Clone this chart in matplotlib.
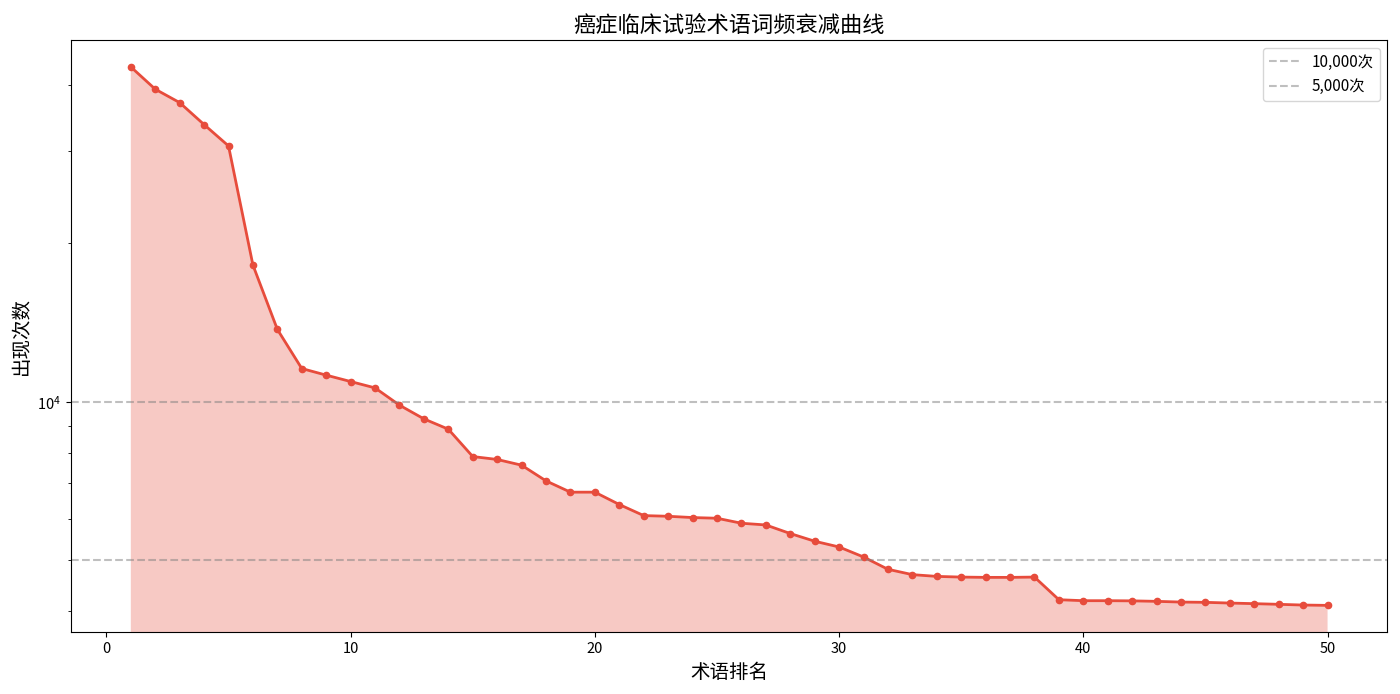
import numpy as np
import matplotlib
matplotlib.use("Agg")
import matplotlib.pyplot as plt

plt.rcParams['font.family'] = ['Noto Sans CJK SC', 'DejaVu Sans']
plt.rcParams['axes.unicode_minus'] = False

ranks = list(range(1, 51))
counts = [43280, 39260, 37020, 33630, 30630, 18190, 13730, 11570, 11240, 10930,
          10630, 9857, 9283, 8874, 7873, 7773, 7581, 7078, 6737, 6737,
          6383, 6081, 6063, 6029, 6011, 5881, 5837, 5622, 5436, 5301,
          5074, 4808, 4697, 4661, 4647, 4641, 4641, 4647, 4209, 4191,
          4191, 4188, 4179, 4166, 4161, 4148, 4137, 4125, 4112, 4106]
ref_lines = [10000, 5000]
ref_labels = ['10,000次', '5,000次']

color = '#E74C3C'

fig = plt.figure(figsize=(14, 6.94), dpi=100)
ax = fig.add_axes([0.0507, 0.0889, 0.9403, 0.8535])

lo = np.log10(min(counts)); hi = np.log10(max(counts))
m = 0.05 * (hi - lo)
ymin, ymax = 10 ** (lo - m), 10 ** (hi + m)

ax.fill_between(ranks, counts, ymin * 0.5, color=color, alpha=0.3, linewidth=0)
ax.plot(ranks, counts, color=color, linewidth=2, marker='o', markersize=4.5)
ax.axhline(ref_lines[0], color='gray', linestyle='--', alpha=0.5, label=ref_labels[0])
ax.axhline(ref_lines[1], color='gray', linestyle='--', alpha=0.5, label=ref_labels[1])
ax.set_yscale('log')
ax.set_ylim(ymin, ymax)
ax.set_xlim(1 - 0.05 * 49, 50 + 0.05 * 49)

ax.set_title('癌症临床试验术语词频衰减曲线', fontsize=16)
ax.set_xlabel('术语排名', fontsize=14)
ax.set_ylabel('出现次数', fontsize=14)
ax.tick_params(labelsize=10.5)
ax.legend(loc='upper right', fontsize=11)

fig.savefig('out.png', dpi=100)
